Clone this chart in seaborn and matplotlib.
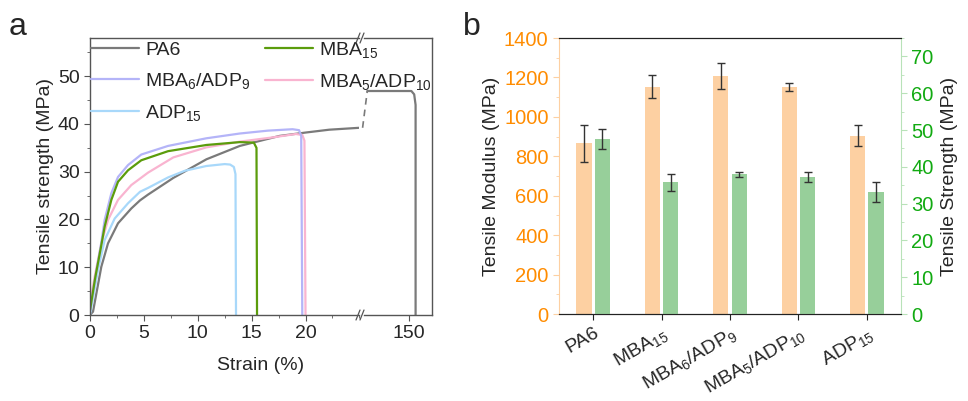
import numpy as np
import pandas as pd
import seaborn as sns
import matplotlib.pyplot as plt
from matplotlib.ticker import MultipleLocator

sns.set_style("ticks")
plt.rcParams['font.family'] = ['Liberation Sans', 'DejaVu Sans']
plt.rcParams['mathtext.fontset'] = 'custom'
plt.rcParams['mathtext.rm'] = 'Liberation Sans'
plt.rcParams['mathtext.it'] = 'Liberation Sans'

# ---- panel a: stress-strain curves ----
pa6_strain = [0, 0.28, 1.05, 1.67, 2.6, 3.83, 4.64, 5.38, 7.73, 10.8, 13.9, 17.6, 20, 22.2, 25]
pa6_stress = [0, 0.7, 10.1, 15.0, 19.2, 22.3, 24.0, 25.2, 28.7, 32.6, 35.4, 37.5, 38.2, 38.8, 39.2]
pa6_jump_strain = [140.2, 141.2]
pa6_jump_stress = [39.2, 46.9]
pa6_end_strain = [141.2, 150.6, 151.2, 151.5, 151.5]
pa6_end_stress = [46.9, 46.9, 46.2, 44.0, 0]

mba15_strain = [0, 0.5, 1.0, 1.36, 1.98, 2.6, 3.53, 4.76, 7.24, 10.8, 13.9, 15.2, 15.45, 15.5]
mba15_stress = [1, 8, 14.0, 18.5, 24.1, 27.9, 30.3, 32.4, 34.3, 35.6, 36.2, 36.1, 35.0, 0]

mba6_strain = [0, 0.5, 1.0, 1.36, 1.98, 2.6, 3.53, 4.76, 7.24, 10.8, 13.9, 16.5, 18.8, 19.4, 19.6, 19.7]
mba6_stress = [1, 8, 14.5, 19.9, 25.5, 28.9, 31.4, 33.6, 35.4, 37.0, 38.0, 38.6, 38.9, 38.7, 37.5, 0]

mba5_strain = [0, 0.43, 1.05, 1.67, 2.6, 3.83, 5.38, 7.73, 10.8, 13.9, 17, 19.1, 19.7, 19.9, 20.0]
mba5_stress = [2.5, 8.0, 15.0, 19.9, 24.1, 27.2, 29.8, 33.0, 35.1, 36.3, 37.2, 37.9, 37.7, 36.5, 0]

adp15_strain = [0, 0.74, 1.36, 2.29, 3.53, 4.64, 5.38, 7.24, 8.8, 10.8, 12.5, 13.0, 13.35, 13.5, 13.55]
adp15_stress = [0, 9.4, 15.7, 20.2, 23.4, 25.8, 26.6, 28.8, 30.2, 31.2, 31.6, 31.5, 31.0, 29.5, 0]

# ---- panel b: bars ----
samples = ['PA6', 'MBA$_{15}$', 'MBA$_6$/ADP$_9$', 'MBA$_5$/ADP$_{10}$', 'ADP$_{15}$']
modulus = [866, 1153, 1207, 1150, 905]
modulus_err = [94, 58, 67, 21, 52]
strength = [47.6, 35.8, 38.0, 37.3, 33.1]
strength_err = [2.7, 2.3, 0.7, 1.3, 2.8]

c_pa6 = '#7a7a7a'
c_mba15 = '#5b9c0c'
c_mba6 = '#b4b4f8'
c_mba5 = '#f9b4d0'
c_adp15 = '#a8d8fa'

fs = 14
fig = plt.figure(figsize=(9.68, 4.01), dpi=100)
W, H = 968, 401

def box(x0, y0, x1, y1):
    return [x0 / W, 1 - y1 / H, (x1 - x0) / W, (y1 - y0) / H]

axL = fig.add_axes(box(90, 38, 359.4, 315))
axR = fig.add_axes(box(364, 38, 432, 315))
axR.set_facecolor('none')

lw = 1.6
sns.lineplot(x=pa6_strain, y=pa6_stress, ax=axL, color=c_pa6, lw=lw, sort=False, estimator=None, label='PA6')
sns.lineplot(x=adp15_strain, y=adp15_stress, ax=axL, color=c_adp15, lw=lw, sort=False, estimator=None, label='ADP$_{15}$')
sns.lineplot(x=mba5_strain, y=mba5_stress, ax=axL, color=c_mba5, lw=lw, sort=False, estimator=None, label='MBA$_5$/ADP$_{10}$')
sns.lineplot(x=mba6_strain, y=mba6_stress, ax=axL, color=c_mba6, lw=lw, sort=False, estimator=None, label='MBA$_6$/ADP$_9$')
sns.lineplot(x=mba15_strain, y=mba15_stress, ax=axL, color=c_mba15, lw=lw, sort=False, estimator=None, label='MBA$_{15}$')

sns.lineplot(x=pa6_jump_strain, y=pa6_jump_stress, ax=axR, color=c_pa6, lw=1.2, ls=(0, (4, 3)),
             sort=False, estimator=None, legend=False, clip_on=False)
sns.lineplot(x=pa6_end_strain, y=pa6_end_stress, ax=axR, color=c_pa6, lw=lw, sort=False,
             estimator=None, legend=False)

spine_c = '#555555'
for ax in (axL, axR):
    ax.set_ylim(0, 58)
    for s in ax.spines.values():
        s.set_color(spine_c)
        s.set_linewidth(1.0)
    ax.tick_params(labelsize=fs, direction='out', length=4, color=spine_c)
    ax.tick_params(which='minor', direction='out', length=2.5, color=spine_c)

axL.set_xlim(0, 25)
axL.xaxis.set_minor_locator(MultipleLocator(2.5))
axL.set_xticks([0, 5, 10, 15, 20])
axL.yaxis.set_major_locator(MultipleLocator(10))
axL.yaxis.set_minor_locator(MultipleLocator(5))
axL.spines['right'].set_visible(False)
axL.set_ylabel('Tensile strength (MPa)', fontsize=fs, labelpad=3)

axR.set_xlim(140.5, 155)
axR.set_xticks([150])
axR.set_yticks([])
axR.spines['left'].set_visible(False)

# break marks
for yy in (38, 315):
    for dx in (-3, 1):
        x0 = 361 + dx
        fig.add_artist(plt.Line2D([(x0 - 2) / W, (x0 + 2) / W], [1 - (yy + 5) / H, 1 - (yy - 5) / H],
                                  color=spine_c, lw=0.9))

handles, labels = axL.get_legend_handles_labels()
order = [labels.index(l) for l in ['PA6', 'MBA$_6$/ADP$_9$', 'ADP$_{15}$', 'MBA$_{15}$', 'MBA$_5$/ADP$_{10}$']]
leg = axL.legend([handles[i] for i in order], [labels[i] for i in order], ncol=2, loc='upper left',
                 frameon=False, fontsize=fs, handlelength=2.5, handletextpad=0.3, columnspacing=0.75,
                 labelspacing=0.62, borderaxespad=0.0, borderpad=0.1, bbox_to_anchor=(-0.005, 1.0))
leg.set_zorder(10)

fig.text(261 / W, 1 - 365 / H, 'Strain (%)', fontsize=fs, ha='center', va='center')
fig.text(18 / W, 1 - 27 / H, 'a', fontsize=23, ha='center', va='center')
fig.text(472 / W, 1 - 27 / H, 'b', fontsize=23, ha='center', va='center')

# ---- panel b ----
axB = fig.add_axes(box(559, 38, 901, 314))
axB2 = axB.twinx()

hue_order = ['Modulus', 'Strength']
df_mod = pd.DataFrame({'sample': samples * 2, 'value': modulus + [0] * len(samples),
                       'prop': ['Modulus'] * len(samples) + ['Strength'] * len(samples)})
df_str = pd.DataFrame({'sample': samples * 2, 'value': [0] * len(samples) + strength,
                       'prop': ['Modulus'] * len(samples) + ['Strength'] * len(samples)})
pal = {'Modulus': '#fdd0a2', 'Strength': '#97cf9a'}

sns.barplot(data=df_mod, x='sample', y='value', hue='prop', hue_order=hue_order, palette=pal,
            ax=axB, width=0.54, gap=0.18, errorbar=None, legend=False, order=samples,
            saturation=1, linewidth=0)
sns.barplot(data=df_str, x='sample', y='value', hue='prop', hue_order=hue_order, palette=pal,
            ax=axB2, width=0.54, gap=0.18, errorbar=None, legend=False, order=samples,
            saturation=1, linewidth=0)

def bar_centers(ax):
    ps = sorted([p for p in ax.patches if p.get_height() > 0], key=lambda p: p.get_x())
    return [p.get_x() + p.get_width() / 2 for p in ps]

axB.errorbar(bar_centers(axB), modulus, yerr=modulus_err, fmt='none', ecolor='#333333',
             elinewidth=1.0, capsize=3, capthick=1.0)
axB2.errorbar(bar_centers(axB2), strength, yerr=strength_err, fmt='none', ecolor='#333333',
              elinewidth=1.0, capsize=3, capthick=1.0)

orange = '#ff8c00'
green = '#11aa11'
axB.set_ylim(0, 1400)
axB.set_xlim(-0.5, 4.5)
axB.yaxis.set_major_locator(MultipleLocator(200))
axB.yaxis.set_minor_locator(MultipleLocator(100))
axB2.yaxis.set_major_locator(MultipleLocator(10))
axB2.yaxis.set_minor_locator(MultipleLocator(5))
axB2.set_ylim(0, 75)

axB.set_xlabel('')
axB2.set_xlabel('')
axB.set_ylabel('Tensile Modulus (MPa)', fontsize=fs, labelpad=3)
axB2.set_ylabel('Tensile Strength (MPa)', fontsize=fs, labelpad=5)

for s in ('top', 'bottom'):
    axB.spines[s].set_color('#222222')
    axB2.spines[s].set_color('#222222')
axB.spines['left'].set_color('#fdd0a2')
axB2.spines['left'].set_visible(False)
axB.spines['right'].set_visible(False)
axB2.spines['right'].set_color('#b8e2b8')

axB.tick_params(axis='y', which='both', direction='out', colors='#fdd0a2', labelcolor=orange, labelsize=fs + 0.5)
axB.tick_params(axis='y', which='major', length=4)
axB.tick_params(axis='y', which='minor', length=2.5)
axB2.tick_params(axis='y', which='both', direction='out', colors='#b8e2b8', labelcolor=green, labelsize=fs + 0.5)
axB2.tick_params(axis='y', which='major', length=4)
axB2.tick_params(axis='y', which='minor', length=2.5)
axB.tick_params(axis='x', direction='out', length=4, color='#222222', labelsize=fs)
axB.set_xticks(range(len(samples)))
axB.set_xticklabels(samples, rotation=30, ha='right', rotation_mode='anchor')

fig.savefig('out.png', dpi=100)
